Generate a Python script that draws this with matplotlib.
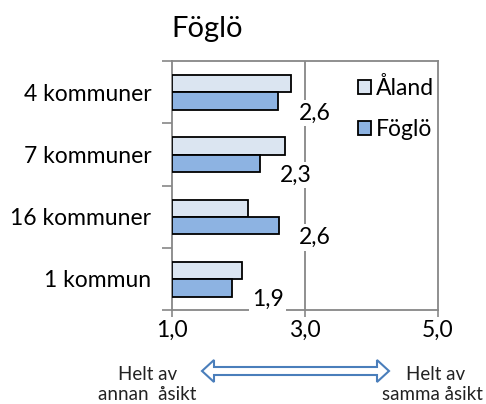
import matplotlib
matplotlib.use("Agg")
import matplotlib.pyplot as plt
import numpy as np
from matplotlib.patches import Polygon

categories = ["4 kommuner", "7 kommuner", "16 kommuner", "1 kommun"]
aland = [2.79, 2.70, 2.14, 2.05]
foglo = [2.60, 2.32, 2.61, 1.90]
foglo_labels = ["2,6", "2,3", "2,6", "1,9"]
series_names = ["Åland", "Föglö"]
xticks = [1, 3, 5]
xticklabels = ["1,0", "3,0", "5,0"]
title = "Föglö"

plt.rcParams['font.family'] = ['Lato', 'DejaVu Sans']

W, H = 486, 404
fig = plt.figure(figsize=(W / 100, H / 100), dpi=100)
ax = fig.add_axes([172 / W, 1 - 310 / H, (438 - 172) / W, (310 - 61) / H])

FS = 16.5
y = np.arange(len(categories))
bh = 0.28
c_al = "#DBE5F1"
c_fo = "#8DB3E2"
ax.barh(y - 0.135, np.array(aland) - 1, left=1, height=bh, color=c_al,
        edgecolor="black", linewidth=1.3, label=series_names[0], zorder=3)
ax.barh(y + 0.145, np.array(foglo) - 1, left=1, height=bh, color=c_fo,
        edgecolor="black", linewidth=1.3, label=series_names[1], zorder=3)

for yi, v, lab in zip(y, foglo, foglo_labels):
    ax.annotate(lab, xy=(v, yi + 0.145), xytext=(14.5, -8.5), textcoords="offset points",
                ha="left", va="center", fontsize=FS, zorder=5,
                bbox=dict(boxstyle="square,pad=0.12", fc="white", ec="none"))

ax.set_xlim(1, 5)
ax.set_ylim(3.5, -0.5)
ax.set_xticks(xticks)
ax.set_xticklabels(xticklabels, fontsize=FS)
ax.set_yticks(y)
ax.set_yticklabels(categories, fontsize=FS)
ax.set_yticks(np.arange(-0.5, 4, 1), minor=True)
ax.tick_params(axis="y", which="major", length=0, pad=15)
ax.tick_params(axis="y", which="minor", length=7, color="#878787", width=1.2)
ax.tick_params(axis="x", which="major", length=5, color="#878787", width=1.2, pad=2)
for s in ax.spines.values():
    s.set_color("#878787")
    s.set_linewidth(1.3)
ax.axvline(3, color="#878787", linewidth=1.3, zorder=1)

leg = ax.legend(loc="upper left", bbox_to_anchor=(347 / W, 1 - 66 / H),
                bbox_transform=fig.transFigure, frameon=False, fontsize=FS,
                handlelength=0.55, handleheight=0.55, handletextpad=0.2,
                labelspacing=0.85, borderpad=0)
leg.set_zorder(6)

fig.text(171 / W, 1 - 37 / H, title, fontsize=21, ha="left", va="baseline")

FS2 = 13.5
fig.text(148 / W, 1 - 374 / H, "Helt av", fontsize=FS2, ha="center", va="center", color="#222222")
fig.text(147 / W, 1 - 394 / H, "annan  åsikt", fontsize=FS2, ha="center", va="center", color="#222222")
fig.text(436 / W, 1 - 374 / H, "Helt av", fontsize=FS2, ha="center", va="center", color="#222222")
fig.text(432 / W, 1 - 394 / H, "samma åsikt", fontsize=FS2, ha="center", va="center", color="#222222")

# double hollow arrow
x0, x1, yc = 202, 389, 371
hh, sh, hl = 11, 4, 12
pts = [(x0, yc), (x0 + hl, yc - hh), (x0 + hl, yc - sh), (x1 - hl, yc - sh), (x1 - hl, yc - hh),
       (x1, yc), (x1 - hl, yc + hh), (x1 - hl, yc + sh), (x0 + hl, yc + sh), (x0 + hl, yc + hh)]
pts = [(px / W, 1 - py / H) for px, py in pts]
fig.patches.append(Polygon(pts, closed=True, transform=fig.transFigure, fc="white",
                           ec="#4A7EBB", lw=1.5, joinstyle="miter"))

fig.savefig("out.png", dpi=100)
